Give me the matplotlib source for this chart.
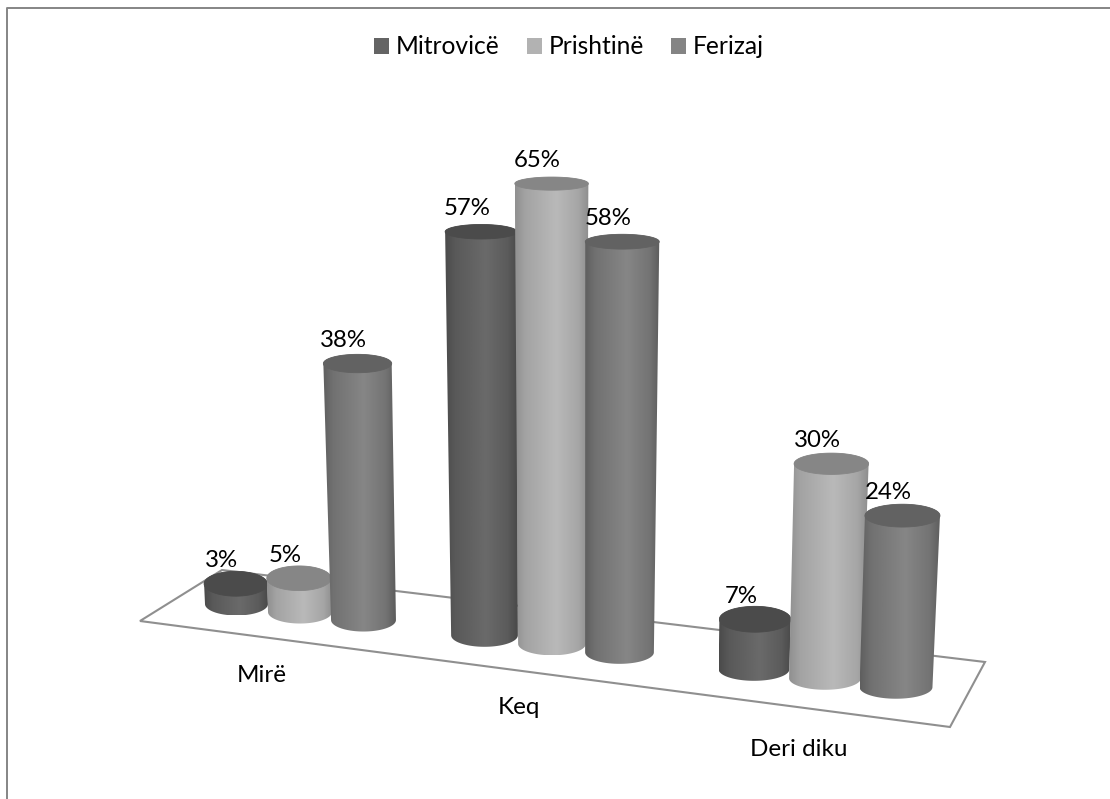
import numpy as np
import matplotlib
matplotlib.use("Agg")
import matplotlib.pyplot as plt
from matplotlib.patches import Patch, Polygon

plt.rcParams["font.family"] = ["Lato", "DejaVu Sans"]

categories = ["Mirë", "Keq", "Deri diku"]
series_names = ["Mitrovicë", "Prishtinë", "Ferizaj"]
mitrovice = [3, 57, 7]
prishtine = [5, 65, 30]
ferizaj = [38, 58, 24]

swatches = ["#646464", "#b2b2b2", "#848484"]
side_edge = ["#454545", "#888888", "#585858"]
side_peak = ["#6a6a6a", "#b9b9b9", "#868686"]
cap_color = ["#4b4b4b", "#868686", "#626262"]

# Scene geometry, in figure pixels (the axes span the whole canvas).
W, H = 1110, 799
GROUP_X = [300, 552, 825]
GROUP_PITCH = [63.5, 67.5, 71]
PX_PER_UNIT = [6.75, 7.08, 7.15]  # nearer groups appear taller per percent
LABEL_POS = [(262, 675), (519, 708), (799, 749)]
FLOOR = [(140, 621), (222, 570), (985, 662), (950, 727)]
VANISH_X = 560
LEAN = 8e-4


def base_y(x):
    return 604 + 0.1262 * (x - 236.5)


def cap_ry(y):
    return min(13.0, 6.5 + (y - 179) * 0.0146)


def draw_cylinder(ax, x0, value, scale, s, z):
    y0 = base_y(x0)
    y1 = y0 - scale * value
    x1 = x0 + (x0 - VANISH_X) * LEAN * value
    r0 = 31.5 + (x0 - 236.5) * 0.0075
    r1 = r0 + 0.045 * value
    ry0, ry1 = 11.5, cap_ry(y1)

    t = np.linspace(0, np.pi, 80)
    lower = np.column_stack([x0 - r0 * np.cos(t), y0 + ry0 * np.sin(t)])
    upper = np.column_stack([x1 + r1 * np.cos(t), y1 - ry1 * np.sin(t)])
    body = np.vstack([lower, upper])
    clip = Polygon(body, closed=True, transform=ax.transData, fc="none", ec="none")
    ax.add_patch(clip)

    # Horizontal shading: dark at both edges, brightest near the middle.
    u = np.linspace(0, 1, 256)
    shade = np.interp(u, [0, 0.14, 0.56, 0.86, 1], [0.15, 0.55, 1, 0.6, 0.1])
    lo = int(side_edge[s][1:3], 16)
    hi = int(side_peak[s][1:3], 16)
    row = (lo + (hi - lo) * shade) / 255
    left, right = body[:, 0].min(), body[:, 0].max()
    img = ax.imshow(
        row[None, :], cmap="gray", vmin=0, vmax=1, aspect="auto",
        extent=(left, right, y0 + ry0, y1 - ry1), zorder=z, interpolation="bilinear",
    )
    img.set_clip_path(clip)

    c = np.linspace(0, 2 * np.pi, 120)
    ax.fill(x1 + r1 * np.cos(c), y1 + ry1 * np.sin(c), color=cap_color[s],
            lw=0.6, zorder=z + 0.5)
    return x1, y1


fig = plt.figure(figsize=(W / 100, H / 100), dpi=100, facecolor="white")
ax = fig.add_axes([0, 0, 1, 1])
ax.set_axis_off()

# Outer chart frame: only the left and top edges fall inside the canvas.
ax.plot([7, 7, W], [H, 7.5, 7.5], color="#858585", lw=1.4, zorder=1)
ax.add_patch(Polygon(FLOOR, closed=True, fc="white", ec="#8f8f8f", lw=1.5, zorder=2))

table = [mitrovice, prishtine, ferizaj]
z = 3
anchors = []
for c, cx in enumerate(GROUP_X):
    for s, vals in enumerate(table):
        x0 = cx + (s - 1) * GROUP_PITCH[c]
        x1, y1 = draw_cylinder(ax, x0, vals[c], PX_PER_UNIT[c], s, z)
        anchors.append((x1, y1, vals[c]))
        z += 1

for x1, y1, v in anchors:
    ax.text(x1 - 14, y1 - 23, f"{v}%", ha="center", va="center",
            fontsize=17.3, color="black", zorder=50)

for name, (x, y) in zip(categories, LABEL_POS):
    ax.text(x, y, name, ha="center", va="center", fontsize=17.5, color="black", zorder=50)

ax.set_xlim(0, W)
ax.set_ylim(H, 0)

handles = [Patch(fc=col, ec="none", label=n) for col, n in zip(swatches, series_names)]
ax.legend(
    handles=handles, ncol=3, loc="center", bbox_to_anchor=(569 / W, 1 - 47 / H),
    frameon=False, fontsize=17.7, handlelength=0.61, handleheight=0.61,
    handletextpad=0.28, columnspacing=1.1, borderpad=0,
)

fig.savefig("out.png", dpi=100, facecolor="white")
